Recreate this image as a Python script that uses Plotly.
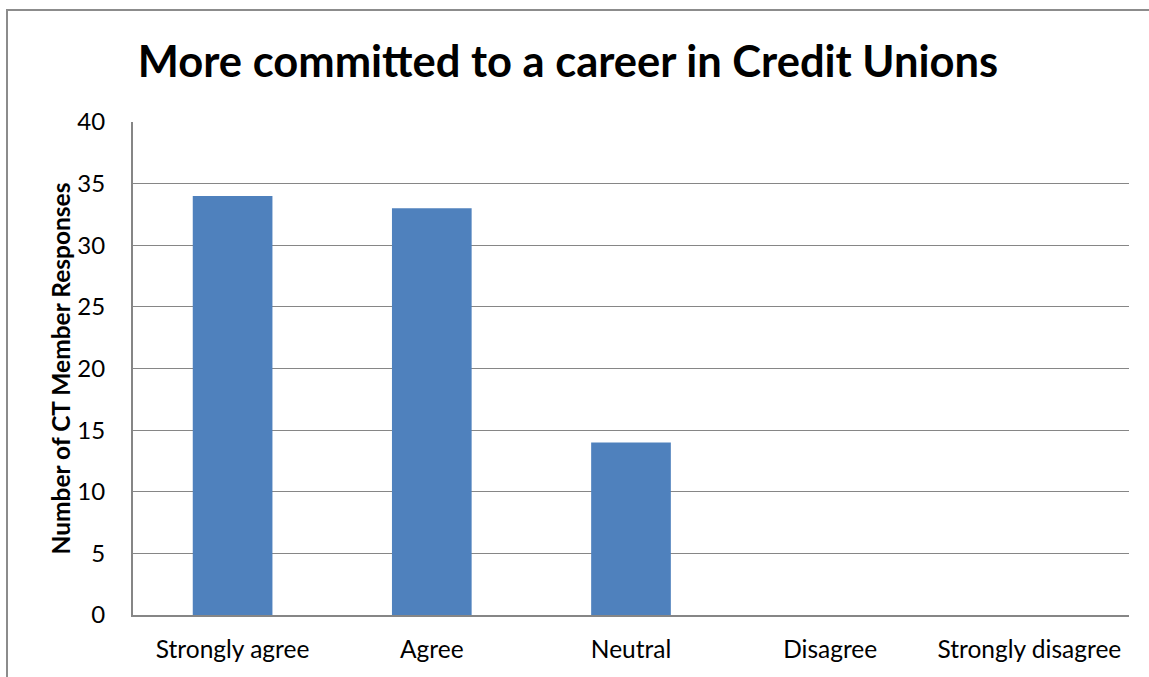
import plotly.graph_objects as go

categories = ["Strongly agree", "Agree", "Neutral", "Disagree", "Strongly disagree"]
responses = [34, 33, 14, 0, 0]
y_ticks = [0, 5, 10, 15, 20, 25, 30, 35, 40]

W, H = 1149, 677
L, R, T, B = 133, 1129, 122, 615
FONT = "Lato"

fig = go.Figure(go.Bar(x=categories, y=responses, marker=dict(color="#4F81BD", line=dict(width=0)), width=0.4))

pw, ph = R - L, B - T
def px(x): return (x - L) / pw
def py(y): return (B - y) / ph

fig.update_layout(
    width=W, height=H,
    margin=dict(l=L, r=W - R, t=T, b=H - B),
    paper_bgcolor="white", plot_bgcolor="white",
    font=dict(family=FONT, color="black"),
    title=dict(text="<b>More committed to a career in Credit Unions</b>", xref="container", x=568 / W, xanchor="center",
               yref="container", y=1 - 62 / H, yanchor="middle", font=dict(size=43.5, family=FONT, color="black")),
    showlegend=False,
    shapes=[dict(type="rect", xref="paper", yref="paper", x0=px(7), x1=px(1165), y0=py(700), y1=py(10),
                 line=dict(color="#8C8C8C", width=2), fillcolor="rgba(0,0,0,0)", layer="below")],
)
fig.update_xaxes(showline=True, linecolor="#868686", linewidth=2, ticks="", showgrid=False,
                 tickfont=dict(size=24.5, family=FONT), ticklabelstandoff=12)
fig.update_yaxes(range=[0, 40], tickvals=y_ticks, showline=True, linecolor="#868686", linewidth=2,
                 showgrid=True, gridcolor="#868686", gridwidth=1, zeroline=False, ticks="",
                 tickfont=dict(size=24, family=FONT), ticklabelstandoff=21,
                 title=dict(text="<b>Number of CT Member Responses</b>", font=dict(size=24.5, family=FONT), standoff=0))

fig.write_html("out.html")
